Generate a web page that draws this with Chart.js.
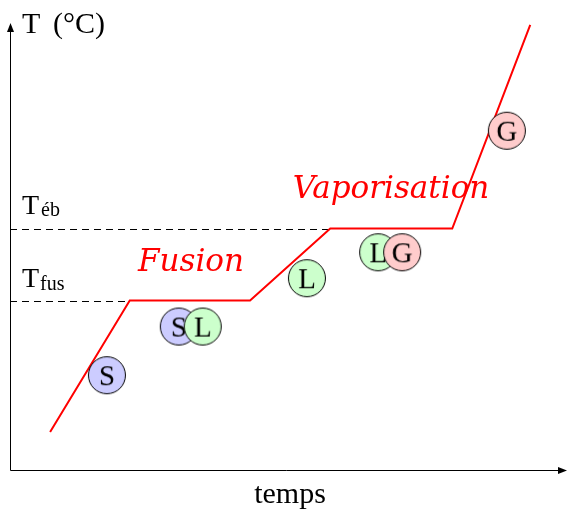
<!DOCTYPE html>
<html>
<head>
<meta charset="utf-8">
<script src="https://cdn.jsdelivr.net/npm/chart.js@4.4.1/dist/chart.umd.min.js"></script>
<style>
    html, body { margin: 0; padding: 0; background: #fff; }
    #wrap { width: 568px; height: 509px; }
</style>
</head>
<body>
<div id="wrap"><canvas id="heatingChart" width="568" height="509"></canvas></div>
<script>
// Heating curve (time / temperature in arbitrary units)
const timeValues = [7.2, 21.5, 43.1, 57.5, 79.4, 93.4];
const tempValues = [8.5, 37.9, 37.9, 54.0, 54.0, 99.6];

const tFus = 37.9;
const tEb = 54.0;

// phase badges: x, y
const solidX = [17.4, 30.3];
const solidY = [21.2, 32.1];
const liquidX = [34.6, 53.3, 66.1];
const liquidY = [32.1, 42.9, 48.7];
const gasX = [70.4, 89.2];
const gasY = [48.7, 75.9];

const serif = '"Liberation Serif", "DejaVu Serif", serif';
const cursive = 'italic 31px "DejaVu Serif", serif';

function zip(xs, ys) {
    return xs.map((x, i) => ({ x: x, y: ys[i] }));
}

function makeBadge(letter, fill) {
    const c = document.createElement('canvas');
    c.width = 42;
    c.height = 42;
    const g = c.getContext('2d');
    g.beginPath();
    g.arc(21, 21, 18.5, 0, Math.PI * 2);
    g.fillStyle = fill;
    g.fill();
    g.lineWidth = 1;
    g.strokeStyle = '#000';
    g.stroke();
    g.fillStyle = '#000';
    g.font = '29px ' + serif;
    g.textAlign = 'center';
    g.textBaseline = 'alphabetic';
    g.fillText(letter, 21, 31);
    return c;
}

const sBadge = makeBadge('S', '#ccccff');
const lBadge = makeBadge('L', '#ccffcc');
const gBadge = makeBadge('G', '#ffcccc');

function arrowHead(ctx, x, y, dir) {
    ctx.beginPath();
    if (dir === 'up') {
        ctx.moveTo(x, y);
        ctx.lineTo(x - 3.5, y + 9);
        ctx.lineTo(x + 3.5, y + 9);
    } else {
        ctx.moveTo(x, y);
        ctx.lineTo(x - 9, y - 3.5);
        ctx.lineTo(x - 9, y + 3.5);
    }
    ctx.closePath();
    ctx.fill();
}

// axes, arrows, dashed guides and texts
const decorPlugin = {
    id: 'decor',
    beforeDatasetsDraw(chart) {
        const ctx = chart.ctx;
        const xs = chart.scales.x;
        const ys = chart.scales.y;
        const x0 = xs.getPixelForValue(0);
        const y0 = ys.getPixelForValue(0);
        ctx.save();
        ctx.strokeStyle = '#000';
        ctx.fillStyle = '#000';
        ctx.lineWidth = 1;
        // dashed guides
        ctx.setLineDash([7, 5]);
        [[tFus, timeValues[1]], [tEb, timeValues[3]]].forEach(([t, xEnd]) => {
            const py = Math.round(ys.getPixelForValue(t)) + 0.5;
            ctx.beginPath();
            ctx.moveTo(x0, py);
            ctx.lineTo(xs.getPixelForValue(xEnd), py);
            ctx.stroke();
        });
        ctx.setLineDash([]);
        // axes
        const ax = Math.round(x0) + 0.5;
        const ay = Math.round(y0) + 0.5;
        ctx.beginPath();
        ctx.moveTo(ax, ay);
        ctx.lineTo(ax, ys.getPixelForValue(100) + 4);
        ctx.moveTo(ax, ay);
        ctx.lineTo(xs.getPixelForValue(100) - 4, ay);
        ctx.stroke();
        arrowHead(ctx, ax, ys.getPixelForValue(100), 'up');
        arrowHead(ctx, xs.getPixelForValue(100), ay, 'right');

        // texts
        ctx.textBaseline = 'alphabetic';
        ctx.textAlign = 'left';
        ctx.font = '30px ' + serif;
        ctx.fillText('T', 22, 33);
        ctx.fillText('(°C)', 53, 33);
        ctx.textAlign = 'center';
        ctx.fillText('temps', 290, 503);

        ctx.textAlign = 'left';
        ctx.font = '28px ' + serif;
        ctx.fillText('T', 22, 214);
        ctx.fillText('T', 22, 287);
        ctx.font = '20px ' + serif;
        ctx.fillText('éb', 41, 216);
        ctx.fillText('fus', 40, 290);

        ctx.fillStyle = '#ff0000';
        ctx.font = cursive;
        ctx.textAlign = 'center';
        ctx.fillText('Fusion', 191, 271);
        ctx.fillText('Vaporisation', 391, 198);
        ctx.restore();
    }
};

new Chart(document.getElementById('heatingChart'), {
    type: 'scatter',
    data: {
        datasets: [
            {
                label: 'G',
                data: zip(gasX, gasY),
                pointStyle: gBadge,
                order: 1
            },
            {
                label: 'L',
                data: zip(liquidX, liquidY),
                pointStyle: lBadge,
                order: 2
            },
            {
                label: 'S',
                data: zip(solidX, solidY),
                pointStyle: sBadge,
                order: 3
            },
            {
                label: 'T',
                type: 'line',
                data: zip(timeValues, tempValues),
                borderColor: '#ff0000',
                borderWidth: 2,
                pointRadius: 0,
                fill: false,
                tension: 0,
                order: 4
            }
        ]
    },
    options: {
        responsive: false,
        animation: false,
        devicePixelRatio: 1,
        layout: {
            autoPadding: false,
            padding: { left: 10, right: 1, top: 23, bottom: 39 }
        },
        plugins: {
            legend: { display: false },
            tooltip: { enabled: false }
        },
        scales: {
            x: { type: 'linear', min: 0, max: 100, display: false },
            y: { type: 'linear', min: 0, max: 100, display: false }
        }
    },
    plugins: [decorPlugin]
});
</script>
</body>
</html>
